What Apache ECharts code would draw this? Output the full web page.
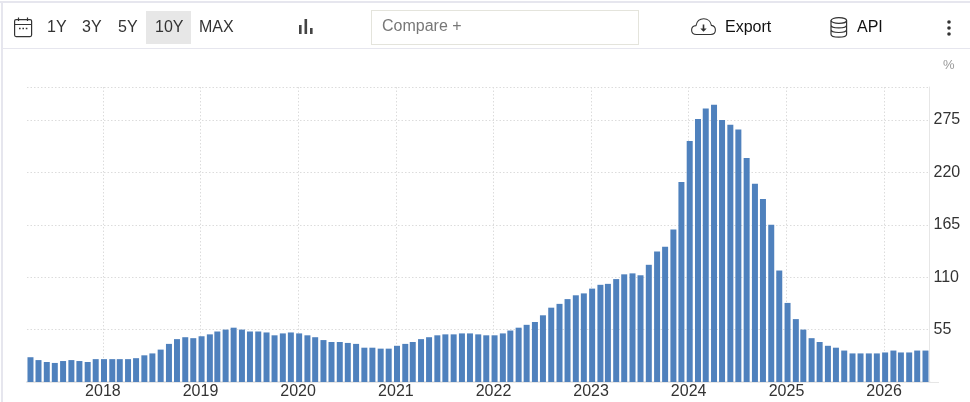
<!DOCTYPE html>
<html><head><meta charset="utf-8">
<script src="https://cdn.jsdelivr.net/npm/echarts@6/dist/echarts.min.js"></script>
<style>
html,body{margin:0;padding:0;background:#fff;width:970px;height:402px;overflow:hidden;font-family:"Liberation Sans",Arial,sans-serif}
#chart{position:absolute;left:0;top:0;width:970px;height:402px}
.t{position:absolute;font-size:16px;line-height:20px;color:#333;white-space:nowrap}
.ln{position:absolute;background:#e6e6ee}
svg{position:absolute;overflow:visible}
</style></head><body>
<div id="chart"></div>
<div class="ln" style="left:0;top:1px;width:970px;height:2px"></div>
<div class="ln" style="left:1px;top:1px;width:2px;height:401px"></div>
<div class="ln" style="left:2px;top:48px;width:968px;height:1px"></div>
<div class="ln" style="left:930px;top:382px;width:9px;height:1px;background:#e6e6e6"></div>
<svg style="left:14px;top:17px" width="19" height="21" fill="none" stroke="#333" stroke-width="1.2"><rect x="0.6" y="2.6" width="17" height="17" rx="1.5"/><path d="M1 7.5H18M4.5 0.5V4M13.5 0.5V4"/><path d="M5 11.5h1.6M8.4 11.5H10M11.8 11.5h1.6" stroke-width="1.6"/></svg>
<div class="t" style="left:47px;top:17px">1Y</div>
<div class="t" style="left:82px;top:17px">3Y</div>
<div class="t" style="left:118px;top:17px">5Y</div>
<div style="position:absolute;left:146px;top:11px;width:45px;height:33px;background:#e7e7e7"></div>
<div class="t" style="left:155px;top:17px">10Y</div>
<div class="t" style="left:199px;top:17px">MAX</div>
<svg style="left:299px;top:19px" width="14" height="16"><rect x="0" y="6" width="2.6" height="9" fill="#444"/><rect x="5.5" y="0" width="2.6" height="15" fill="#444"/><rect x="11" y="9" width="2.6" height="6" fill="#444"/></svg>
<div style="position:absolute;left:371px;top:10px;width:266px;height:33px;border:1px solid #e4e4dc"></div>
<div class="t" style="left:382px;top:16px;color:#777">Compare +</div>
<svg style="left:691px;top:18px" width="25" height="18" fill="none" stroke="#333" stroke-width="1.1"><path d="M5.5 16.5C2.5 16.5.6 14.5.6 12S2.5 7.8 5 7.6C5.8 3.5 9 .8 12.8.8c4 0 7 2.8 7.6 6.6 2.4.4 4 2.300 4 4.700 0 2.600-2 4.400-4.600 4.400Z"/><path d="M12.500 6.500v5" stroke-width="1.600"/><path d="M9.300 10.500h6.400l-3.200 3.300Z" fill="#333" stroke="none"/></svg>
<div class="t" style="left:725px;top:17px;color:#111">Export</div>
<svg style="left:830px;top:17px" width="18" height="21" fill="none" stroke="#333" stroke-width="1.2"><ellipse cx="8.800" cy="3.500" rx="7.800" ry="2.900"/><path d="M1 3.500V17.200c0 1.700 3.500 2.900 7.800 2.900s7.800-1.200 7.800-2.900V3.500M1 8c0 1.700 3.500 2.900 7.800 2.900S16.600 9.700 16.600 8M1 12.600c0 1.700 3.500 2.900 7.800 2.900s7.800-1.200 7.800-2.900"/></svg>
<div class="t" style="left:857px;top:17px;color:#111">API</div>
<svg style="left:946px;top:20px" width="6" height="16" fill="#333"><circle cx="3" cy="2" r="1.800"/><circle cx="3" cy="8" r="1.800"/><circle cx="3" cy="14" r="1.800"/></svg>
<div class="t" style="left:943px;top:55px;font-size:13px;color:#999">%</div>
<script>
const firstYear = 2017, firstMonth = 4;
const values2017 = [26, 23, 21, 20, 22, 23, 22, 21, 24];
const values2018 = [24, 24, 24, 24, 25, 28, 30, 34, 40, 45, 47, 46];
const values2019 = [48, 50, 53, 55, 57, 55, 53, 53, 52, 49, 51, 52];
const values2020 = [51, 49, 47, 44, 42, 42, 41, 40, 36, 36, 35, 35];
const values2021 = [38, 40, 42, 45, 47, 49, 50, 50, 51, 51, 50, 49];
const values2022 = [49, 51, 54, 57, 60, 63, 70, 78, 82, 87, 91, 93];
const values2023 = [98, 102, 103, 108, 113, 114, 112, 123, 137, 142, 160, 210];
const values2024 = [253, 276, 287, 291, 275, 270, 265, 235, 208, 192, 165, 117];
const values2025 = [83, 66, 55, 46, 42, 38, 36, 33, 30, 30, 30, 30];
const values2026 = [31, 33, 31, 31, 33, 33];
const yearTicks = [2018, 2019, 2020, 2021, 2022, 2023, 2024, 2025, 2026];
const yTicks = [55, 110, 165, 220, 275];

const allValues = [].concat(values2017, values2018, values2019, values2020, values2021, values2022, values2023, values2024, values2025, values2026);
const seriesData = allValues.map((v, i) => [Date.UTC(firstYear, firstMonth - 1 + i, 5), v]);
const yearStamps = yearTicks.map(y => Date.UTC(y, 0, 1));
const chart = echarts.init(document.getElementById('chart'), null, {renderer: 'canvas'});
chart.setOption({
  animation: false,
  textStyle: {fontFamily: '"Liberation Sans", Arial, sans-serif'},
  grid: {left: 27, right: 40.5, top: 87, bottom: 20, containLabel: false},
  xAxis: {
    type: 'value',
    min: Date.UTC(2017, 2, 23),
    max: Date.UTC(2026, 5, 20),
    containShape: false,
    axisLine: {show: true, lineStyle: {color: '#e6e6e6', width: 2}},
    axisTick: {show: false, customValues: yearStamps},
    axisLabel: {
      fontSize: 16, color: '#333', margin: 2, hideOverlap: false,
      customValues: yearStamps,
      formatter: v => String(new Date(v).getUTCFullYear())
    },
    splitLine: {show: true, lineStyle: {color: '#dcdcdc', type: [1.5, 2], width: 1}}
  },
  yAxis: {
    type: 'value',
    position: 'right',
    min: 0,
    max: 309.6,
    interval: 55,
    axisLine: {show: true, lineStyle: {color: '#e6e6e6', width: 1}},
    axisTick: {show: false},
    axisLabel: {
      fontSize: 16, color: '#333', margin: 4, padding: [0, 0, 7, 0],
      formatter: v => yTicks.includes(v) ? String(v) : ''
    },
    splitLine: {show: true, lineStyle: {color: '#dcdcdc', type: [1.5, 2], width: 1}}
  },
  series: [{
    type: 'bar',
    data: seriesData,
    barWidth: 6,
    itemStyle: {color: '#4f81bd'},
    emphasis: {disabled: true}
  }]
});
</script>
</body></html>
